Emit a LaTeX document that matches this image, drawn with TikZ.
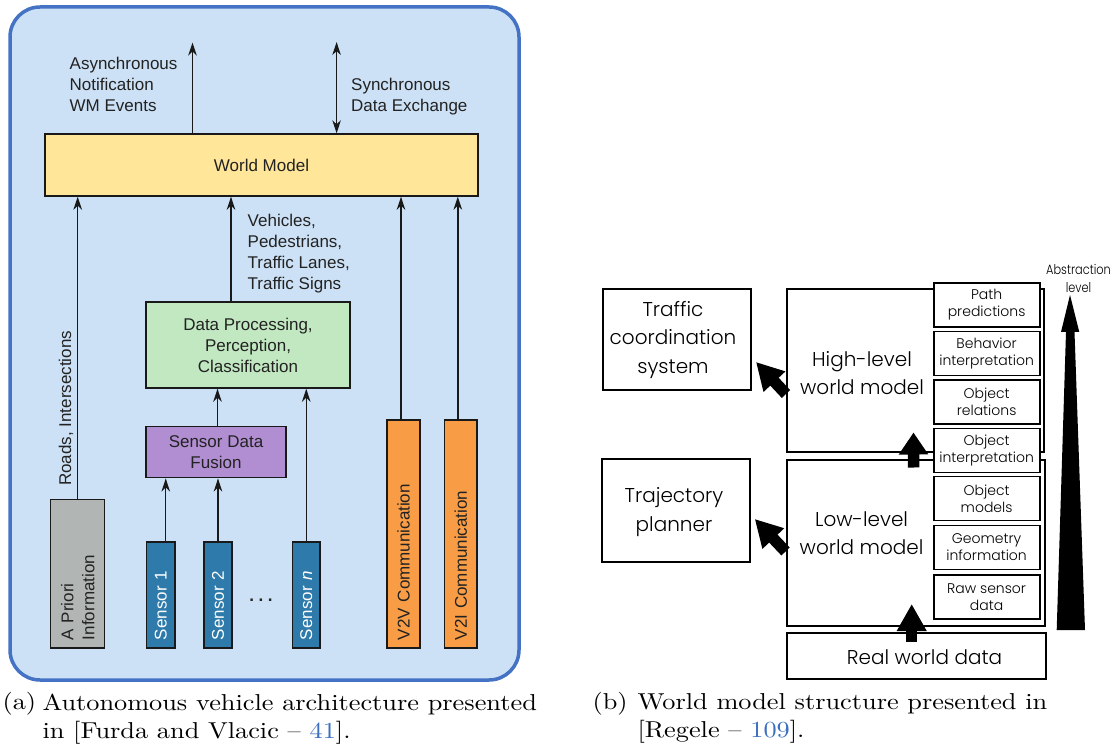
\documentclass[tikz,border=0pt]{standalone}
\usepackage{fontspec}
\newfontfamily\hv{Liberation Sans}
\newfontfamily\gth{Poppins Light}
\usetikzlibrary{arrows.meta}
\definecolor{panelfill}{HTML}{CCE1F5}
\definecolor{panelborder}{HTML}{4472C4}
\definecolor{wmfill}{HTML}{FFE699}
\definecolor{dpfill}{HTML}{C1E8C1}
\definecolor{fusfill}{HTML}{B18ED1}
\definecolor{sensfill}{HTML}{2E7AAB}
\definecolor{apfill}{HTML}{B1B6B4}
\definecolor{v2fill}{HTML}{F89D45}
\definecolor{citeblue}{HTML}{3A6FC0}
\definecolor{ink}{HTML}{222222}
\begin{document}
\begin{tikzpicture}[x=1pt,y=-1pt,
  blk/.style={draw=black!90, line width=1.4pt, inner sep=0pt, font=\hv\fontsize{17}{21}\selectfont, text=ink, align=center},
  vbox/.style={blk, rotate=90, align=left, inner xsep=8pt, inner ysep=0pt},
  lbl/.style={font=\hv\fontsize{17}{21}\selectfont, text=ink, inner sep=0pt, align=left},
  tipA/.tip={Stealth[length=13pt,width=8.5pt,inset=4pt]},
  arr/.style={line width=1.4pt, draw=black!90, -tipA},
  darr/.style={line width=1.4pt, draw=black!90, tipA-tipA},
  rbox/.style={draw=black, line width=2pt, inner sep=0pt},
  rtxt/.style={font=\gth\fontsize{20}{28.5}\selectfont, align=center, inner sep=0pt},
  sbox/.style={rbox, fill=white, line width=1.8pt, minimum width=106pt, minimum height=44pt, font=\gth\fontsize{14}{17}\selectfont, align=center},
  blockarr/.style={line width=11.5pt, draw=black, -{Triangle[length=#1,width=28pt]}},
  captxt/.style={font=\fontsize{10}{12}\selectfont, inner sep=0pt, xscale=2.63, yscale=2.3, transform shape}
]
\useasboundingbox (0,0) rectangle (1117,751);

% ---------- left panel ----------
\draw[draw=panelborder, fill=panelfill, line width=3.5pt, rounded corners=30pt] (10,7) rectangle (519,680);

\node[blk, fill=wmfill, minimum width=433pt, minimum height=62pt] (wm) at (261.5,165) {World Model};
\node[blk, fill=dpfill, minimum width=204pt, minimum height=86pt] (dp) at (248,345) {Data Processing,\\Perception,\\Classification};
\node[blk, fill=fusfill, minimum width=140pt, minimum height=51.5pt] (fus) at (216,452) {Sensor Data\\Fusion};

\node[vbox, fill=sensfill, text=white, minimum width=106pt, minimum height=28.5pt, text width=90pt] (s1) at (160.75,595) {Sensor 1};
\node[vbox, fill=sensfill, text=white, minimum width=106pt, minimum height=28pt, text width=90pt] (s2) at (218,595) {Sensor 2};
\node[vbox, fill=sensfill, text=white, minimum width=106pt, minimum height=27.5pt, text width=90pt] (sn) at (306.25,595) {Sensor \textit{n}};
\node[lbl] (dots) at (261,600) {\textbf{.}\hspace{4.6pt}\textbf{.}\hspace{4.6pt}\textbf{.}};

\node[vbox, fill=apfill, minimum width=148.5pt, minimum height=54pt, text width=132.5pt] (ap) at (77.7,573.75) {A Priori\\Information};
\node[vbox, fill=v2fill, minimum width=228pt, minimum height=33pt, text width=212pt] (v2v) at (403.5,534) {V2V Communication};
\node[vbox, fill=v2fill, minimum width=228pt, minimum height=32.4pt, text width=212pt] (v2i) at (460.8,534) {V2I Communication};

% top outputs
\coordinate (outA) at (192.5,42.5);
\coordinate (outS) at (336.6,42);
\draw[arr] (wm.north -| outA) -- (outA);
\draw[darr] (outS) -- (outS |- wm.north);
\node[lbl, anchor=north west] (asyn) at (69.5,57.3) {Asynchronous\\Notification\\WM Events};
\node[lbl, anchor=north west] (syn) at (351,77.8) {Synchronous\\Data Exchange};

% inputs to world model
\draw[arr] (ap.east) -- (ap.east |- wm.south);
\node[lbl, rotate=90, anchor=base west] (roads) at (71,486) {Roads, Intersections};
\draw[arr] ([xshift=-17pt]dp.north) -- ([xshift=-17pt]dp.north |- wm.south);
\node[lbl, anchor=north west] (veh) at (247.5,213.8) {Vehicles,\\Pedestrians,\\Traffic Lanes,\\Traffic Signs};
\draw[arr] ([xshift=-2.5pt]v2v.east) -- ([xshift=-2.5pt]v2v.east |- wm.south);
\draw[arr] ([xshift=-3pt]v2i.east) -- ([xshift=-3pt]v2i.east |- wm.south);

% processing chain
\draw[arr] ([xshift=1.5pt]fus.north) -- ([xshift=1.5pt]fus.north |- dp.south);
\draw[arr] (sn.east) -- (sn.east |- dp.south);
\draw[arr] ([xshift=5pt]s1.east) -- ([xshift=5pt]s1.east |- fus.south);
\draw[arr] (s2.east) -- (s2.east |- fus.south);

% ---------- right panel ----------
\node[rbox, minimum width=147.6pt, minimum height=101.8pt] (tc) at (677.2,339.6) {};
\node[rtxt] (tct) at (673,340) {Traffic\\coordination\\system};
\node[rbox, minimum width=148pt, minimum height=103pt] (tp) at (675.75,510.1) {};
\node[rtxt] (tpt) at (674,512) {Trajectory\\planner};

\node[rbox, minimum width=257pt, minimum height=163pt] (hl) at (915.5,370.5) {};
\node[rtxt] (hlt) at (862,373) {High-level\\world model};
\node[rbox, minimum width=258pt, minimum height=166.5pt] (ll) at (915.55,542.75) {};
\node[rtxt] (llt) at (861.6,533) {Low-level\\world model};
\node[rbox, minimum width=259.4pt, minimum height=46pt] (rw) at (916.3,656) {};
\node[rtxt] (rwt) at (924.5,657) {Real world data};

\node[sbox] (b1) at (986.6,305) {Path\\predictions};
\node[sbox] (b2) at (986.6,353.5) {Behavior\\interpretation};
\node[sbox] (b3) at (986.6,402) {Object\\relations};
\node[sbox] (b4) at (986.6,450.5) {Object\\interpretation};
\node[sbox] (b5) at (986.6,498.5) {Object\\models};
\node[sbox] (b6) at (986.6,547.5) {Geometry\\information};
\node[sbox] (b7) at (986.6,597) {Raw sensor\\data};

\draw[blockarr=27pt] ([yshift=-23.5pt]hl.west) -- ([xshift=4pt,yshift=-22.4pt]tc.east);
\draw[blockarr=27pt] ([yshift=-8.75pt]ll.west) -- ([xshift=4pt,yshift=-8.9pt]tp.east);
\draw[blockarr=22pt] ([xshift=-2pt,yshift=-9pt]ll.north) -- ([xshift=-2pt,yshift=20.5pt]hl.south);
\draw[blockarr=27pt] ([xshift=-4.6pt,yshift=-9.7pt]rw.north) -- ([xshift=-3.85pt,yshift=23pt]ll.south);

\fill[black] (1070,295) -- (1079.3,332) -- (1074.5,332) -- (1085,630) -- (1056.7,630) -- (1066,332) -- (1061,332) -- cycle;
\node[font=\gth\fontsize{13.5}{18}\selectfont, align=center, inner sep=0pt, xscale=0.84, transform shape] (abs) at (1078.5,278) {Abstraction\\level};

% ---------- captions ----------
\node[captxt, anchor=base west] (capa) at (2,709.5) {(a)};
\node[captxt, anchor=north west, align=left] (capat) at (42,693.5) {Autonomous vehicle architecture presented\\in {[}Furda and Vlacic \textendash{} \textcolor{citeblue}{41}{]}.};
\node[captxt, anchor=base west] (capb) at (592,709.5) {(b)};
\node[captxt, anchor=north west, align=left] (capbt) at (637,693.5) {World model structure presented in\\{[}Regele \textendash{} \textcolor{citeblue}{109}{]}.};
\end{tikzpicture}
\end{document}
